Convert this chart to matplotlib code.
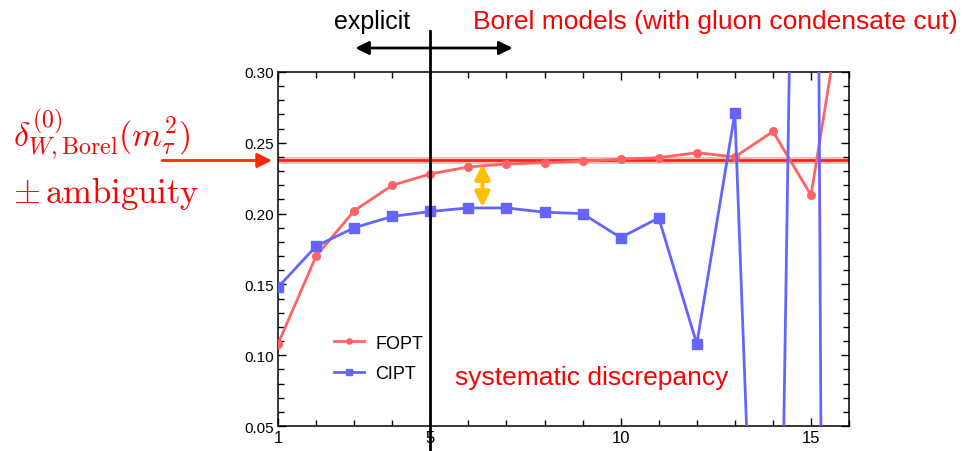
"""Borel model FOPT/CIPT comparison"""

import numpy as np
import matplotlib
matplotlib.use('Agg')
import matplotlib.pyplot as plt
import matplotlib.transforms as mtransforms
from matplotlib.ticker import MultipleLocator, FixedLocator, FormatStrFormatter

plt.rcParams['font.family'] = ['Liberation Sans', 'DejaVu Sans']
plt.rcParams['mathtext.fontset'] = 'cm'

# data
orders = np.arange(1, 17)
fopt = [0.108, 0.170, 0.202, 0.220, 0.228, 0.233, 0.235, 0.236,
        0.237, 0.2385, 0.2395, 0.243, 0.240, 0.258, 0.213, 0.38]
cipt = [0.148, 0.177, 0.190, 0.198, 0.2015, 0.204, 0.204, 0.201,
        0.200, 0.183, 0.197, 0.108, 0.271, -0.45, 1.30, -3.5]
borel_value = 0.2375
borel_ambiguity = 0.0025
x_ticks = [1, 5, 10, 15]

red_series = '#FF6363'
blue_series = '#6464FF'
annot_red = '#FF0000'

fig = plt.figure(figsize=(9.63, 4.52), dpi=100)
ax = fig.add_axes([0.2887, 0.0553, 0.593, 0.7832])

# Borel value band
ax.axhspan(borel_value - borel_ambiguity, borel_value + borel_ambiguity,
           color='#FF9090', alpha=0.6, lw=0, zorder=1)
ax.axhline(borel_value, color='#FF2020', lw=2, zorder=2)

ax.plot(orders, fopt, color=red_series, lw=2, marker='o', ms=5.5,
        label='FOPT', zorder=3)
ax.plot(orders, cipt, color=blue_series, lw=2, marker='s', ms=6.5,
        label='CIPT', zorder=3)

ax.set_xlim(1, 16)
ax.set_ylim(0.05, 0.30)
ax.xaxis.set_major_locator(FixedLocator(x_ticks))
ax.xaxis.set_minor_locator(MultipleLocator(1))
ax.yaxis.set_major_locator(MultipleLocator(0.05))
ax.yaxis.set_minor_locator(MultipleLocator(0.01))
ax.yaxis.set_major_formatter(FormatStrFormatter('%.2f'))
ax.tick_params(which='both', direction='in', top=True, right=True,
               labelsize=11, width=1, pad=3)
ax.tick_params(axis='x', labelsize=12, pad=3)
ax.tick_params(which='major', length=6)
ax.tick_params(which='minor', length=4)
for s in ax.spines.values():
    s.set_linewidth(1.1)

leg = ax.legend(loc='upper left', bbox_to_anchor=(0.085, 0.278), frameon=False,
                fontsize=13, handlelength=1.7, markerscale=0.7,
                labelspacing=0.75, handletextpad=0.6, borderaxespad=0)

# yellow discrepancy arrow
ax.annotate('', xy=(6.37, 0.2045), xytext=(6.37, 0.235),
            arrowprops=dict(arrowstyle='<|-|>', color='#FFC000', lw=3,
                            mutation_scale=22, shrinkA=0, shrinkB=0),
            zorder=5)
ax.text((455 - 278) / 571, 0.138, 'systematic discrepancy', transform=ax.transAxes,
        color=annot_red, fontsize=19, va='center', ha='left')

# vertical line at x=5, extending beyond the frame
tr_xdata = mtransforms.blended_transform_factory(ax.transData, fig.transFigure)
ax.plot([5, 5], [0.0, 1 - 32 / 452], color='black', lw=2,
        transform=tr_xdata, clip_on=False, zorder=6)
ax.annotate('', xy=(3.03, 1 - 49 / 452), xytext=(7.16, 1 - 49 / 452),
            xycoords=tr_xdata, textcoords=tr_xdata,
            arrowprops=dict(arrowstyle='<|-|>', color='black', lw=2,
                            mutation_scale=20, shrinkA=0, shrinkB=0))

fig.text(372 / 963, 1 - 22 / 452, 'explicit', fontsize=18,
         ha='center', va='center', color='black')
fig.text(473 / 963, 1 - 22 / 452, 'Borel models (with gluon condensate cut)',
         fontsize=19, ha='left', va='center', color=annot_red)

# left label with arrow
fig.text(13 / 963, 1 - 135 / 452,
         r'$\delta^{(0)}_{W,\mathrm{Borel}}(m_\tau^2)$',
         fontsize=24.5, ha='left', va='center', color=annot_red)
fig.text(13 / 963, 1 - 193 / 452, r'$\pm\,\mathrm{ambiguity}$',
         fontsize=25, ha='left', va='center', color=annot_red)
tr_ydata = mtransforms.blended_transform_factory(fig.transFigure, ax.transData)
ax.annotate('', xy=(272 / 963, borel_value), xytext=(162 / 963, borel_value),
            xycoords=tr_ydata, textcoords=tr_ydata,
            arrowprops=dict(arrowstyle='-|>', color='#FF2A00', lw=2,
                            mutation_scale=22, shrinkA=0, shrinkB=0))

fig.savefig('out.png', dpi=100)
